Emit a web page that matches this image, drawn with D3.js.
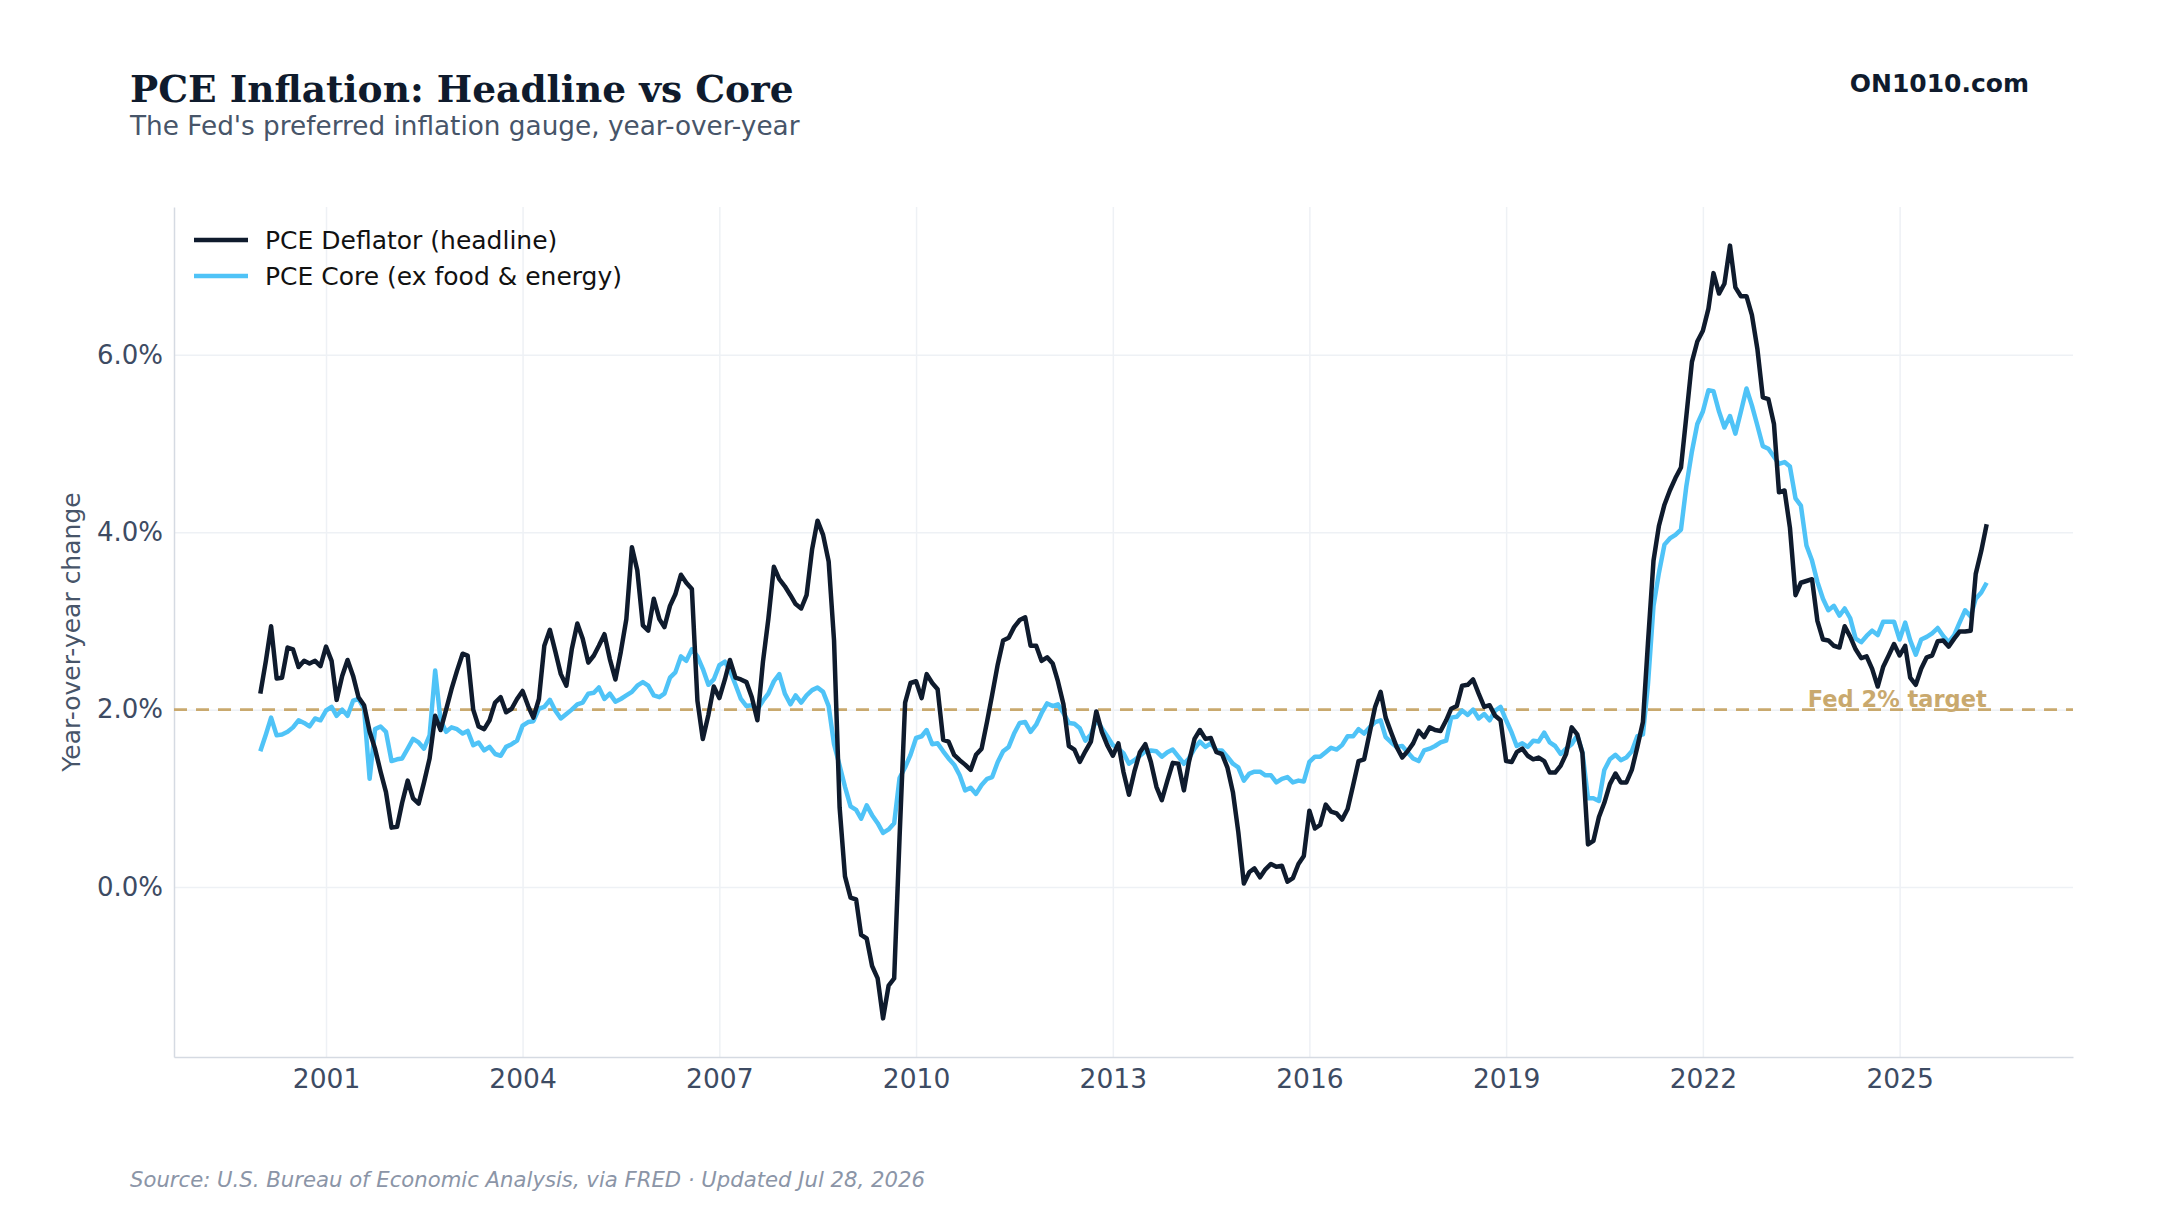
<!DOCTYPE html>
<html>
<head>
<meta charset="utf-8">
<script src="https://cdn.jsdelivr.net/npm/d3@7"></script>
<style>
    body { margin: 0; background: #ffffff; }
    svg { display: block; font-family: "DejaVu Sans", sans-serif; }
</style>
</head>
<body>
<svg id="chart" width="2160" height="1215"></svg>
<script>

// Monthly series, first point is January 2000 (one year per line)
var startYear = 2000;

var headline = [
    2.18, 2.55, 2.94, 2.35, 2.36, 2.70, 2.68, 2.48, 2.55, 2.52, 2.55, 2.49,
    2.71, 2.55, 2.11, 2.38, 2.56, 2.38, 2.14, 2.05, 1.75, 1.56, 1.30, 1.07,
    0.67, 0.68, 0.95, 1.20, 1.00, 0.94, 1.18, 1.45, 1.93, 1.77, 2.00, 2.23,
    2.44, 2.63, 2.61, 2.00, 1.81, 1.78, 1.88, 2.08, 2.14, 1.97, 2.01, 2.12,
    2.21, 2.04, 1.91, 2.12, 2.72, 2.90, 2.66, 2.40, 2.27, 2.68, 2.97, 2.80,
    2.53, 2.61, 2.72, 2.85, 2.57, 2.34, 2.65, 3.02, 3.83, 3.57, 2.95, 2.89,
    3.25, 3.02, 2.93, 3.17, 3.30, 3.52, 3.43, 3.36, 2.10, 1.67, 1.94, 2.26,
    2.13, 2.34, 2.56, 2.36, 2.34, 2.31, 2.14, 1.88, 2.54, 3.02, 3.61, 3.47,
    3.39, 3.29, 3.19, 3.14, 3.29, 3.81, 4.13, 3.97, 3.67, 2.78, 0.90, 0.12,
    -0.12, -0.14, -0.54, -0.58, -0.89, -1.03, -1.48, -1.11, -1.03, 0.56, 2.08, 2.30,
    2.32, 2.13, 2.40, 2.30, 2.23, 1.66, 1.64, 1.49, 1.43, 1.38, 1.32, 1.49,
    1.56, 1.87, 2.17, 2.51, 2.78, 2.81, 2.93, 3.01, 3.04, 2.72, 2.72, 2.55,
    2.59, 2.52, 2.32, 2.06, 1.59, 1.55, 1.41, 1.53, 1.64, 1.98, 1.75, 1.60,
    1.48, 1.62, 1.30, 1.04, 1.30, 1.52, 1.61, 1.41, 1.13, 0.98, 1.20, 1.40,
    1.39, 1.09, 1.41, 1.67, 1.77, 1.67, 1.68, 1.52, 1.50, 1.35, 1.07, 0.62,
    0.04, 0.17, 0.21, 0.11, 0.20, 0.26, 0.23, 0.24, 0.06, 0.10, 0.26, 0.35,
    0.86, 0.66, 0.70, 0.93, 0.85, 0.83, 0.76, 0.88, 1.15, 1.42, 1.44, 1.73,
    2.03, 2.20, 1.91, 1.74, 1.58, 1.46, 1.53, 1.62, 1.76, 1.69, 1.80, 1.77,
    1.76, 1.88, 2.01, 2.04, 2.27, 2.28, 2.34, 2.18, 2.03, 2.05, 1.93, 1.88,
    1.42, 1.41, 1.52, 1.56, 1.48, 1.44, 1.46, 1.42, 1.29, 1.29, 1.37, 1.50,
    1.80, 1.72, 1.51, 0.48, 0.52, 0.79, 0.95, 1.16, 1.28, 1.18, 1.18, 1.32,
    1.58, 1.86, 2.75, 3.68, 4.07, 4.31, 4.47, 4.61, 4.73, 5.31, 5.92, 6.15,
    6.27, 6.52, 6.92, 6.69, 6.80, 7.23, 6.76, 6.66, 6.66, 6.45, 6.06, 5.52,
    5.50, 5.22, 4.45, 4.47, 4.05, 3.29, 3.43, 3.45, 3.47, 3.00, 2.79, 2.78,
    2.72, 2.70, 2.94, 2.82, 2.68, 2.58, 2.60, 2.46, 2.26, 2.48, 2.61, 2.74,
    2.61, 2.72, 2.36, 2.28, 2.46, 2.59, 2.61, 2.77, 2.78, 2.71, 2.80, 2.88,
    2.88, 2.89, 3.53, 3.79, 4.09
];

var core = [
    1.53, 1.72, 1.91, 1.71, 1.72, 1.75, 1.80, 1.88, 1.85, 1.81, 1.90, 1.88,
    1.99, 2.03, 1.93, 2.00, 1.93, 2.10, 2.12, 2.01, 1.22, 1.78, 1.81, 1.75,
    1.42, 1.44, 1.45, 1.56, 1.67, 1.63, 1.56, 1.71, 2.44, 1.88, 1.75, 1.80,
    1.78, 1.73, 1.76, 1.60, 1.63, 1.54, 1.58, 1.50, 1.48, 1.58, 1.61, 1.65,
    1.82, 1.86, 1.87, 2.01, 2.03, 2.11, 1.99, 1.90, 1.95, 2.00, 2.06, 2.08,
    2.18, 2.19, 2.25, 2.12, 2.18, 2.09, 2.12, 2.16, 2.20, 2.27, 2.31, 2.27,
    2.16, 2.14, 2.18, 2.36, 2.42, 2.60, 2.55, 2.68, 2.60, 2.46, 2.28, 2.34,
    2.50, 2.54, 2.44, 2.28, 2.12, 2.04, 2.05, 2.00, 2.10, 2.18, 2.32, 2.40,
    2.18, 2.06, 2.16, 2.08, 2.16, 2.22, 2.25, 2.20, 2.04, 1.61, 1.37, 1.13,
    0.91, 0.87, 0.77, 0.92, 0.81, 0.72, 0.61, 0.65, 0.72, 1.23, 1.35, 1.49,
    1.68, 1.70, 1.77, 1.61, 1.62, 1.53, 1.45, 1.38, 1.26, 1.09, 1.12, 1.05,
    1.15, 1.22, 1.24, 1.41, 1.53, 1.58, 1.73, 1.85, 1.86, 1.75, 1.83, 1.96,
    2.07, 2.04, 2.06, 1.96, 1.85, 1.84, 1.79, 1.65, 1.72, 1.89, 1.79, 1.70,
    1.60, 1.56, 1.51, 1.39, 1.43, 1.48, 1.53, 1.54, 1.53, 1.47, 1.52, 1.55,
    1.47, 1.39, 1.45, 1.56, 1.64, 1.58, 1.62, 1.54, 1.54, 1.47, 1.39, 1.35,
    1.20, 1.28, 1.30, 1.30, 1.26, 1.26, 1.18, 1.22, 1.24, 1.18, 1.20, 1.19,
    1.41, 1.47, 1.47, 1.52, 1.57, 1.55, 1.60, 1.70, 1.70, 1.78, 1.73, 1.80,
    1.86, 1.88, 1.69, 1.63, 1.58, 1.59, 1.52, 1.45, 1.42, 1.54, 1.56, 1.59,
    1.63, 1.65, 1.91, 1.92, 1.99, 1.94, 2.00, 1.90, 1.95, 1.88, 1.99, 2.03,
    1.88, 1.74, 1.59, 1.62, 1.58, 1.65, 1.64, 1.74, 1.63, 1.59, 1.50, 1.56,
    1.61, 1.71, 1.52, 1.00, 1.00, 0.97, 1.32, 1.44, 1.49, 1.43, 1.46, 1.53,
    1.70, 1.72, 2.28, 3.17, 3.54, 3.86, 3.93, 3.97, 4.03, 4.52, 4.91, 5.22,
    5.36, 5.60, 5.59, 5.36, 5.18, 5.31, 5.11, 5.36, 5.62, 5.43, 5.20, 4.97,
    4.94, 4.85, 4.77, 4.79, 4.74, 4.38, 4.30, 3.85, 3.68, 3.44, 3.25, 3.12,
    3.17, 3.06, 3.14, 3.03, 2.80, 2.76, 2.83, 2.89, 2.84, 2.99, 2.99, 2.99,
    2.79, 2.98, 2.78, 2.62, 2.79, 2.82, 2.86, 2.92, 2.83, 2.76, 2.84, 2.98,
    3.12, 3.05, 3.25, 3.32, 3.43
];

var seriesNames = ["PCE Deflator (headline)", "PCE Core (ex food & energy)"];
var seriesColors = ["#0f1b2d", "#4fc3f7"];
var xTickYears = [2001, 2004, 2007, 2010, 2013, 2016, 2019, 2022, 2025];
var yTicks = [0, 2, 4, 6];
var fedTarget = 2;

function drawChart() {
    /*
    Draws the headline vs core PCE line chart
    */

    var svgWidth = 2160;
    var svgHeight = 1215;

    // Padding around the plot area
    var padding = {
        top: 207,
        right: 87,
        bottom: 158,
        left: 174
    };

    var chartWidth = svgWidth - padding.left - padding.right;
    var chartHeight = svgHeight - padding.top - padding.bottom;

    var svg = d3.select("#chart");

    var dates = headline.map(function(d, i) {
        return new Date(startYear, i, 1);
    });

    var series = [headline, core].map(function(values, s) {
        return {
            name: seriesNames[s],
            color: seriesColors[s],
            points: values.map(function(v, i) { return { date: dates[i], value: v }; })
        };
    });

    // x domain with a 5% margin on both sides
    var xExtent = d3.extent(dates);
    var xPad = (xExtent[1] - xExtent[0]) * 0.05;
    var xScale = d3.scaleTime()
        .domain([new Date(+xExtent[0] - xPad), new Date(+xExtent[1] + xPad)])
        .range([0, chartWidth]);

    var allValues = headline.concat(core);
    var yMin = d3.min(allValues);
    var yMax = d3.max(allValues);
    var yPad = (yMax - yMin) * 0.05;
    var yScale = d3.scaleLinear()
        .domain([yMin - yPad, yMax + yPad])
        .range([chartHeight, 0]);

    var plot = svg.append("g")
        .attr("transform", `translate(${padding.left}, ${padding.top})`);

    // Vertical gridlines
    plot.append("g")
        .attr("class", "grid")
        .call(d3.axisBottom(xScale)
            .tickValues(xTickYears.map(function(y) { return new Date(y, 0, 1); }))
            .tickSize(chartHeight)
            .tickFormat(""))
        .call(function(g) { g.select(".domain").remove(); })
        .selectAll("line")
            .attr("stroke", "#eef1f5")
            .attr("stroke-width", 1.5);

    // Horizontal gridlines
    plot.append("g")
        .attr("class", "grid")
        .call(d3.axisRight(yScale)
            .tickValues(yTicks)
            .tickSize(chartWidth)
            .tickFormat(""))
        .call(function(g) { g.select(".domain").remove(); })
        .selectAll("line")
            .attr("stroke", "#eef1f5")
            .attr("stroke-width", 1.5);

    // Draw x-axis
    var xAxis = plot.append("g")
        .attr("transform", `translate(0, ${chartHeight})`)
        .call(d3.axisBottom(xScale)
            .tickValues(xTickYears.map(function(y) { return new Date(y, 0, 1); }))
            .tickSize(0)
            .tickPadding(12)
            .tickFormat(d3.timeFormat("%Y")));
    xAxis.select(".domain").attr("stroke", "#d5dae2").attr("stroke-width", 1.5);
    xAxis.selectAll("text")
        .attr("fill", "#3d4b63")
        .style("font-size", "26.5px")
        .style("font-family", "DejaVu Sans");

    // Draw y-axis
    var yAxis = plot.append("g")
        .call(d3.axisLeft(yScale)
            .tickValues(yTicks)
            .tickSize(0)
            .tickPadding(11)
            .tickFormat(function(d) { return d3.format(".1f")(d) + "%"; }));
    yAxis.select(".domain").attr("stroke", "#d5dae2").attr("stroke-width", 1.5);
    yAxis.selectAll("text")
        .attr("fill", "#3d4b63")
        .style("font-size", "26px")
        .style("font-family", "DejaVu Sans");

    // Fed target line
    plot.append("line")
        .attr("x1", 0)
        .attr("x2", chartWidth)
        .attr("y1", yScale(fedTarget))
        .attr("y2", yScale(fedTarget))
        .attr("stroke", "#c9a96e")
        .attr("stroke-width", 2.8)
        .attr("stroke-dasharray", "13,9");

    plot.append("text")
        .attr("x", xScale(dates[dates.length - 1]))
        .attr("y", yScale(fedTarget) - 3)
        .attr("text-anchor", "end")
        .attr("fill", "#c9a96e")
        .style("font-size", "22.5px")
        .style("font-weight", "bold")
        .text("Fed 2% target");

    // Series lines
    var line = d3.line()
        .x(function(d) { return xScale(d.date); })
        .y(function(d) { return yScale(d.value); });

    plot.selectAll(".series")
        .data(series.slice().reverse())
        .enter()
        .append("path")
            .attr("class", "series")
            .attr("d", function(d) { return line(d.points); })
            .attr("fill", "none")
            .attr("stroke", function(d) { return d.color; })
            .attr("stroke-width", 4.5)
            .attr("stroke-linejoin", "round");

    // Legend
    var legend = plot.append("g")
        .attr("transform", "translate(20, 33)");

    var items = legend.selectAll(".item")
        .data(series)
        .enter()
        .append("g")
            .attr("class", "item")
            .attr("transform", function(d, i) { return `translate(0, ${i * 36})`; });

    items.append("line")
        .attr("x1", 0)
        .attr("x2", 54)
        .attr("stroke", function(d) { return d.color; })
        .attr("stroke-width", 4.5);

    items.append("text")
        .attr("x", 71)
        .attr("dy", "0.35em")
        .attr("fill", "#111111")
        .style("font-size", "25px")
        .text(function(d) { return d.name; });

    // Y label
    svg.append("text")
        .attr("transform", `translate(80, ${padding.top + chartHeight / 2}) rotate(-90)`)
        .attr("text-anchor", "middle")
        .attr("fill", "#475569")
        .style("font-size", "25px")
        .text("Year-over-year change");

    // Title, subtitle, brand and source
    svg.append("text")
        .attr("x", 130)
        .attr("y", 102)
        .attr("fill", "#0f1b2d")
        .style("font-family", "DejaVu Serif")
        .style("font-weight", "bold")
        .style("font-size", "37.5px")
        .text("PCE Inflation: Headline vs Core");

    svg.append("text")
        .attr("x", 130)
        .attr("y", 135)
        .attr("fill", "#475569")
        .style("font-size", "26.3px")
        .text("The Fed's preferred inflation gauge, year-over-year");

    svg.append("text")
        .attr("x", 2029)
        .attr("y", 92)
        .attr("text-anchor", "end")
        .attr("fill", "#0f1b2d")
        .style("font-weight", "bold")
        .style("font-size", "25px")
        .text("ON1010.com");

    svg.append("text")
        .attr("x", 130)
        .attr("y", 1187)
        .attr("fill", "#8b95a7")
        .style("font-style", "italic")
        .style("font-size", "21.2px")
        .text("Source: U.S. Bureau of Economic Analysis, via FRED · Updated Jul 28, 2026");
}

drawChart();
</script>
</body>
</html>
